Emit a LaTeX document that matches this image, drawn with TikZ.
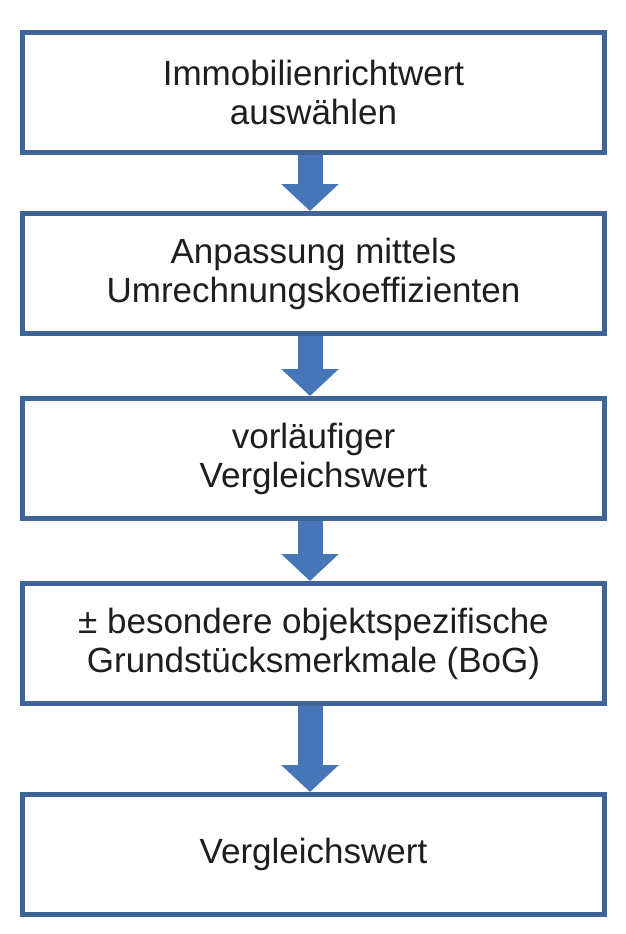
\documentclass[tikz,border=0pt]{standalone}
\usepackage{fontspec}
\setmainfont{Liberation Sans}
\usetikzlibrary{arrows.meta}

\definecolor{boxblue}{HTML}{3E6498}
\definecolor{arrowblue}{HTML}{4676B8}
\definecolor{textgray}{HTML}{1E1E1E}

\begin{document}
\begin{tikzpicture}[x=1pt, y=1pt,
  stepbox/.style={draw=boxblue, line width=5pt, outer sep=2.5pt, fill=white,
    minimum width=582pt, minimum height=120pt, align=center, text=textgray,
    font=\fontsize{35}{39}\selectfont},
  flowarrow/.style={draw=arrowblue, line width=25pt, -{Triangle[length=27pt, width=56pt]}}]
  \useasboundingbox (0, 0) rectangle (625, -934);

  \node[stepbox] (auswahl) at (313.5, -92.5) {Immobilienrichtwert \\ auswählen};
  \node[stepbox] (anpassung) at (313.5, -273.5) {Anpassung mittels \\ Umrechnungskoeffizienten};
  \node[stepbox] (vorlaeufig) at (313.5, -458.5) {vorläufiger \\ Vergleichswert};
  \node[stepbox] (merkmale) at (313.5, -643.5) {± besondere objektspezifische \\ Grundstücksmerkmale (BoG)};
  \node[stepbox] (ergebnis) at (313.5, -854.5) {Vergleichswert};

  \draw[flowarrow] ([xshift=-3.5pt]auswahl.south) -- ([xshift=-3.5pt]anpassung.north);
  \draw[flowarrow] ([xshift=-3.5pt]anpassung.south) -- ([xshift=-3.5pt]vorlaeufig.north);
  \draw[flowarrow] ([xshift=-3.5pt]vorlaeufig.south) -- ([xshift=-3.5pt]merkmale.north);
  \draw[flowarrow] ([xshift=-3.5pt]merkmale.south) -- ([xshift=-3.5pt]ergebnis.north);

\end{tikzpicture}
\end{document}
